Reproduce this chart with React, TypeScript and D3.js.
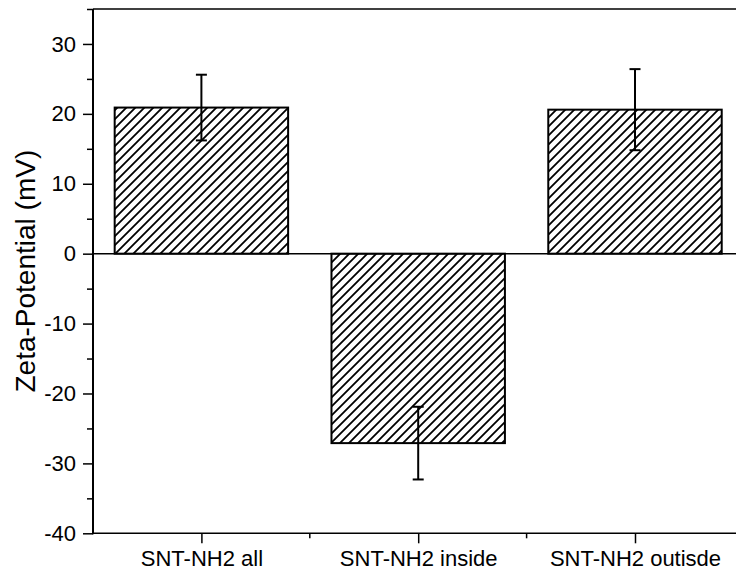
import { useEffect, useRef } from 'react';
import * as d3 from 'd3';

// Zeta potential of the three SNT-NH2 samples (mV), mean and error bar
const categories = ['SNT-NH2 all', 'SNT-NH2 inside', 'SNT-NH2 outisde'];
const zetaValues = [20.9, -27.1, 20.6];
const zetaErrors = [4.7, 5.2, 5.8];
const yMajorTicks = [-40, -30, -20, -10, 0, 10, 20, 30];
const yMinorTicks = [-35, -25, -15, -5, 5, 15, 25, 35];

const FONT = '"Liberation Sans", Arial, sans-serif';

export default function App() {
  const svgRef = useRef<SVGSVGElement>(null);

  useEffect(() => {
    if (!svgRef.current) return;

    const width = 736;
    const height = 571;
    const left = 93;
    const top = 9;
    const bottom = 533.3;
    const right = 743.4; // plot frame runs past the cropped picture edge

    const svg = d3.select(svgRef.current);
    svg.selectAll('*').remove();
    svg.attr('width', width).attr('height', height);

    svg.append('rect').attr('width', width).attr('height', height).attr('fill', '#ffffff');

    // Hatch fill for bars
    const defs = svg.append('defs');
    const pat = defs
      .append('pattern')
      .attr('id', 'hatch')
      .attr('patternUnits', 'userSpaceOnUse')
      .attr('width', 9)
      .attr('height', 9);
    pat.append('rect').attr('width', 9).attr('height', 9).attr('fill', '#ffffff');
    pat
      .append('path')
      .attr('d', 'M-2,2 L2,-2 M0,9 L9,0 M7,11 L11,7')
      .attr('stroke', '#000')
      .attr('stroke-width', 1.8);

    const y = d3.scaleLinear().domain([-40, 35]).range([bottom, top]);
    const x = d3.scalePoint<string>().domain(categories).range([left, right]).padding(0.5);
    const step = x.step();
    const barW = step * 0.8;

    // Bars
    categories.forEach((c, i) => {
      const v = zetaValues[i];
      const y0 = y(Math.max(0, v));
      const y1 = y(Math.min(0, v));
      svg
        .append('rect')
        .attr('x', x(c)! - barW / 2)
        .attr('y', y0)
        .attr('width', barW)
        .attr('height', y1 - y0)
        .attr('fill', 'url(#hatch)')
        .attr('stroke', '#000')
        .attr('stroke-width', 2);
    });

    // Zero line
    svg
      .append('line')
      .attr('x1', left)
      .attr('x2', right)
      .attr('y1', y(0))
      .attr('y2', y(0))
      .attr('stroke', '#000')
      .attr('stroke-width', 1.5);

    // Error bars
    categories.forEach((c, i) => {
      const cx = x(c)!;
      const hi = y(zetaValues[i] + zetaErrors[i]);
      const lo = y(zetaValues[i] - zetaErrors[i]);
      const g = svg.append('g').attr('stroke', '#000').attr('stroke-width', 2);
      g.append('line').attr('x1', cx).attr('x2', cx).attr('y1', hi).attr('y2', lo);
      g.append('line').attr('x1', cx - 5.5).attr('x2', cx + 5.5).attr('y1', hi).attr('y2', hi);
      g.append('line').attr('x1', cx - 5.5).attr('x2', cx + 5.5).attr('y1', lo).attr('y2', lo);
    });

    // Y axis
    const yAxis = svg.append('g').attr('transform', `translate(${left},0)`);
    yAxis.call(
      d3
        .axisLeft(y)
        .tickValues(yMajorTicks)
        .tickSize(10)
        .tickPadding(7)
        .tickFormat((d) => String(d))
    );
    const yMinor = svg.append('g').attr('transform', `translate(${left},0)`);
    yMinor.call(d3.axisLeft(y).tickValues(yMinorTicks).tickSize(6).tickFormat(() => ''));
    [yAxis, yMinor].forEach((g) => {
      g.select('.domain').remove();
      g.selectAll('line').attr('stroke', '#000').attr('stroke-width', 1.5);
    });
    yAxis
      .selectAll('text')
      .attr('font-family', FONT)
      .attr('font-size', 22)
      .attr('fill', '#000');

    // X axis
    const xAxis = svg.append('g').attr('transform', `translate(0,${bottom})`);
    xAxis.call(d3.axisBottom(x).tickSize(10).tickPadding(7.5));
    xAxis.select('.domain').remove();
    xAxis.selectAll('line').attr('stroke', '#000').attr('stroke-width', 1.5);
    xAxis
      .selectAll('text')
      .attr('font-family', FONT)
      .attr('font-size', 22)
      .attr('fill', '#000');

    // minor x ticks between categories
    categories.slice(1).forEach((c) => {
      const bx = x(c)! - step / 2;
      svg
        .append('line')
        .attr('x1', bx)
        .attr('x2', bx)
        .attr('y1', bottom)
        .attr('y2', bottom + 5)
        .attr('stroke', '#000')
        .attr('stroke-width', 1.5);
    });

    // Frame lines
    svg
      .append('line')
      .attr('x1', left)
      .attr('x2', right)
      .attr('y1', top)
      .attr('y2', top)
      .attr('stroke', '#000')
      .attr('stroke-width', 1.3);
    svg
      .append('line')
      .attr('x1', left)
      .attr('x2', right)
      .attr('y1', bottom)
      .attr('y2', bottom)
      .attr('stroke', '#000')
      .attr('stroke-width', 1.5);
    svg
      .append('line')
      .attr('x1', left)
      .attr('x2', left)
      .attr('y1', top)
      .attr('y2', bottom + 1)
      .attr('stroke', '#000')
      .attr('stroke-width', 2);

    // Y axis title
    svg
      .append('text')
      .attr('transform', `translate(35,${(top + bottom) / 2}) rotate(-90)`)
      .attr('text-anchor', 'middle')
      .attr('font-family', FONT)
      .attr('font-size', 28)
      .attr('fill', '#000')
      .text('Zeta-Potential (mV)');
  }, []);

  return <svg ref={svgRef} style={{ position: 'absolute', left: 0, top: 0 }} />;
}
